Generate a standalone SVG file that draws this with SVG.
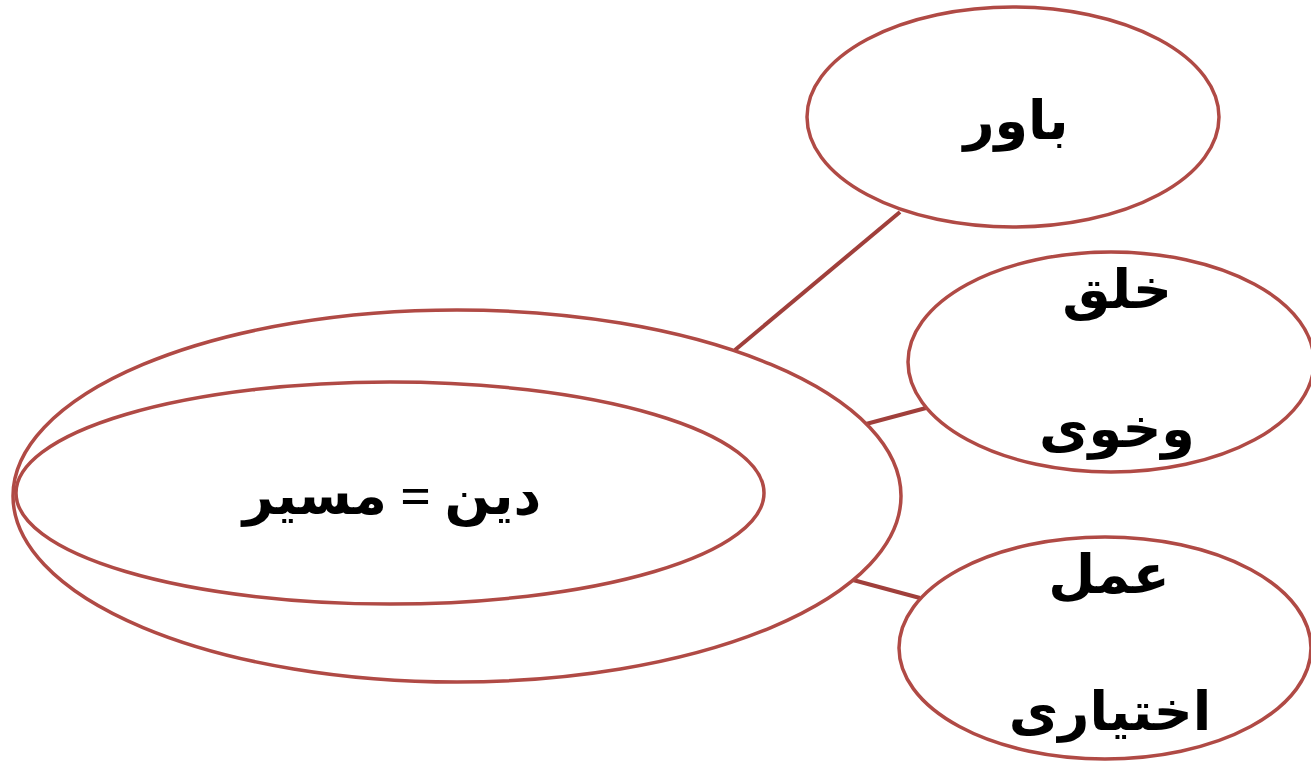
<svg xmlns="http://www.w3.org/2000/svg" width="1311" height="763" viewBox="0 0 1311 763">
<style>
.shape{fill:#ffffff;stroke:#b04a45;stroke-width:3.5}
.conn{stroke:#a03f3b;stroke-width:4;fill:none}
.lbl{font-family:"Liberation Serif","DejaVu Serif","DejaVu Sans",serif;font-weight:bold;font-size:54px;fill:#000000;text-anchor:middle}
</style>
<rect width="1311" height="763" fill="#ffffff"/>
<g id="connectors">
<line class="conn" x1="735" y1="350" x2="900" y2="212"/>
<line class="conn" x1="866" y1="424" x2="926" y2="408"/>
<line class="conn" x1="853" y1="580" x2="920" y2="598"/>
</g>
<g id="node-outer">
<ellipse class="shape" cx="457" cy="496" rx="444" ry="186"/>
</g>
<g id="node-center">
<ellipse class="shape" cx="390" cy="493" rx="374" ry="111"/>
<text class="lbl" x="392" y="514" direction="rtl">دین = مسیر</text>
</g>
<g id="node-bavar">
<ellipse class="shape" cx="1013" cy="117" rx="206" ry="110"/>
<text class="lbl" x="1016" y="139" direction="rtl">باور</text>
</g>
<g id="node-akhlagh">
<ellipse class="shape" cx="1111" cy="362" rx="203" ry="110"/>
<text class="lbl" x="1117" y="308" direction="rtl">خلق</text>
<text class="lbl" x="1117" y="447" direction="rtl">وخوی</text>
</g>
<g id="node-amal">
<ellipse class="shape" cx="1105" cy="648" rx="206" ry="111"/>
<text class="lbl" x="1109" y="593" direction="rtl">عمل</text>
<text class="lbl" x="1110" y="730" direction="rtl">اختیاری</text>
</g>
</svg>
